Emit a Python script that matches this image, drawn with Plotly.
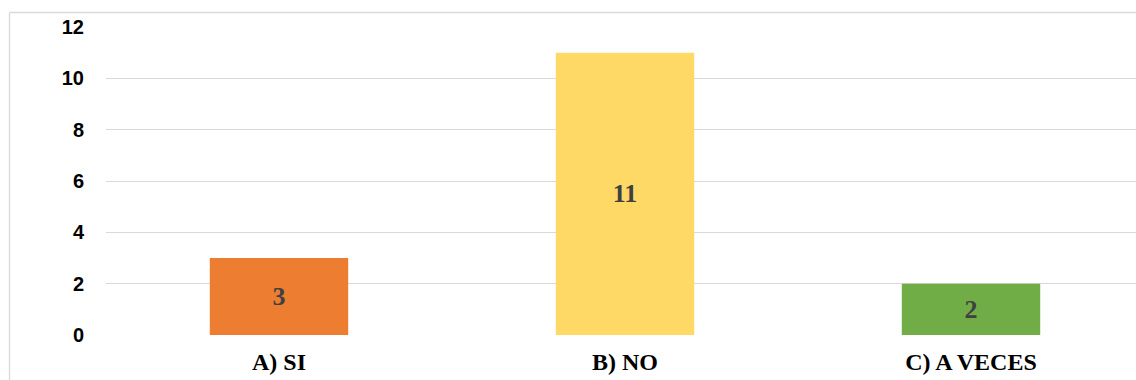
import plotly.graph_objects as go

categories = ["A) SI", "B) NO", "C) A VECES"]
values = [3, 11, 2]
colors = ["#ED7D31", "#FFD966", "#70AD47"]
y_ticks = [0, 2, 4, 6, 8, 10, 12]

W, H = 1136, 380
L, R, T, B = 106, 0, 27, 45
pw, ph = W - L - R, H - T - B

def px_x(x):
    return (x - L) / pw

def px_y(y):
    return (H - B - y) / ph

fig = go.Figure(go.Bar(
    x=categories, y=values,
    marker=dict(color=colors, line=dict(width=0)),
    width=0.4,
    text=[str(v) for v in values],
    textposition="inside",
    insidetextanchor="middle",
    textangle=0,
    textfont=dict(family="Liberation Serif", size=26, color="#404040", weight="bold"),
    cliponaxis=False,
))

fig.update_layout(
    width=W, height=H,
    margin=dict(l=L, r=R, t=T, b=B, pad=0),
    paper_bgcolor="white", plot_bgcolor="white",
    showlegend=False,
    uniformtext=dict(mode=False),
    xaxis=dict(
        range=[-0.5, 2.5 - 8 / 346],
        showgrid=False, zeroline=False, showline=False,
        ticks="", ticklabelstandoff=10,
        tickfont=dict(family="Liberation Serif", size=24, color="#000000", weight="bold"),
    ),
    yaxis=dict(
        range=[0, 12],
        tickvals=y_ticks,
        showgrid=True, gridcolor="#D9D9D9", gridwidth=1.3,
        zeroline=False, showline=False,
        ticks="", ticklabelstandoff=21,
        tickfont=dict(family="Liberation Sans", size=20, color="#000000", weight="bold"),
    ),
    shapes=[
        dict(type="line", xref="paper", yref="paper",
             x0=px_x(9.5), x1=px_x(9.5), y0=px_y(12.5), y1=px_y(H + 5),
             line=dict(color="#D9D9D9", width=1.3)),
        dict(type="line", xref="paper", yref="paper",
             x0=px_x(9.5), x1=px_x(W + 5), y0=px_y(12.5), y1=px_y(12.5),
             line=dict(color="#D9D9D9", width=1.3)),
    ],
)

fig.write_html("out.html")
